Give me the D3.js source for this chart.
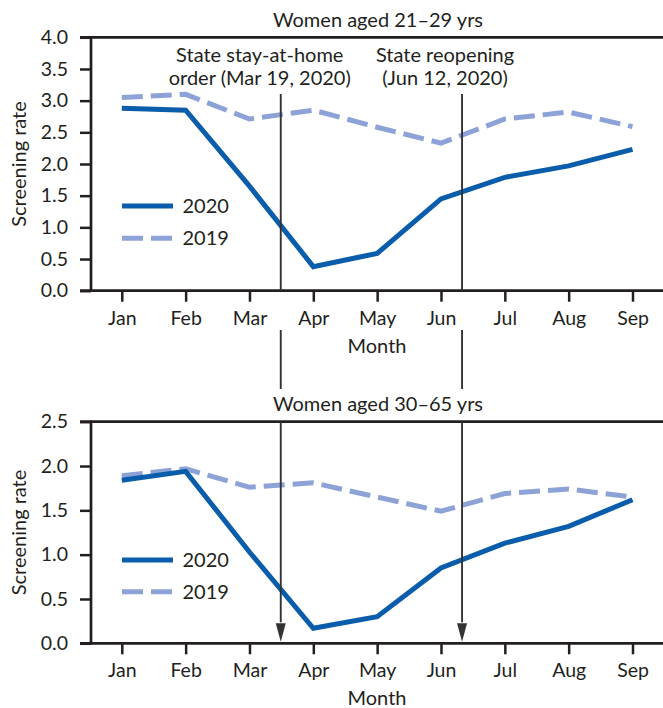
<!DOCTYPE html>
<html>
<head>
<meta charset="utf-8">
<script src="https://cdn.jsdelivr.net/npm/d3@7"></script>
<style>
  html, body { margin: 0; padding: 0; background: #fff; }
  svg { display: block; }
  text { font-family: Lato, "Open Sans", sans-serif; fill: #231f20; }
</style>
</head>
<body>
<svg id="chart" width="663" height="708"></svg>
<script>
// ---- data ----
const months = ["Jan", "Feb", "Mar", "Apr", "May", "Jun", "Jul", "Aug", "Sep"];
const young2020 = [2.88, 2.85, 1.65, 0.38, 0.59, 1.45, 1.79, 1.97, 2.23];
const young2019 = [3.05, 3.10, 2.71, 2.85, 2.58, 2.33, 2.71, 2.82, 2.59];
const older2020 = [1.84, 1.94, 1.03, 0.17, 0.30, 0.85, 1.13, 1.32, 1.62];
const older2019 = [1.89, 1.97, 1.76, 1.81, 1.65, 1.49, 1.69, 1.74, 1.65];
const youngTicks = [0, 0.5, 1, 1.5, 2, 2.5, 3, 3.5, 4];
const olderTicks = [0, 0.5, 1, 1.5, 2, 2.5];
const panelTitles = ["Women aged 21\u201329 yrs", "Women aged 30\u201365 yrs"];
const seriesNames = ["2020", "2019"];
const eventLabels = [["State stay-at-home", "order (Mar 19, 2020)"], ["State reopening", "(Jun 12, 2020)"]];
const eventMonthPos = [2.49, 5.33]; // position on month axis (0 = Jan)

// ---- styles ----
const C2020 = "#0a5dab", C2019 = "#8da2d6", INK = "#231f20", EVT = "#333333";
const FS = 20, FT = 19.5;

const svg = d3.select("#chart");
const x = d3.scaleLinear().domain([0, months.length - 1]).range([121.8, 632.5]);
const axisLeftX = 91, axisRight = 663;

const panels = [
  { title: panelTitles[0], s20: young2020, s19: young2019, ticks: youngTicks, max: 4,
    top: 37.3, bottom: 290.7, titleY: 27.3, legendY: [206, 238.3] },
  { title: panelTitles[1], s20: older2020, s19: older2019, ticks: olderTicks, max: 2.5,
    top: 421.7, bottom: 643.3, titleY: 410.7, legendY: [560, 591.7] }
];

panels.forEach((p, pi) => {
  const y = d3.scaleLinear().domain([0, p.max]).range([p.bottom, p.top]);
  const g = svg.append("g");

  g.append("text").attr("x", 378).attr("y", p.titleY).attr("text-anchor", "middle")
    .attr("font-size", FS).text(p.title);

  const ya = g.append("g").attr("transform", `translate(${axisLeftX},0)`)
    .call(d3.axisLeft(y).tickValues(p.ticks).tickFormat(d3.format(".1f")).tickSize(11).tickPadding(12));
  ya.select(".domain").remove();
  ya.selectAll(".tick line").attr("stroke", INK).attr("stroke-width", 2.5);
  ya.selectAll(".tick text").attr("font-size", FT).attr("font-family", "Lato, sans-serif").attr("fill", INK);

  const xa = g.append("g").attr("transform", `translate(0,${p.bottom})`)
    .call(d3.axisBottom(x).tickValues(d3.range(months.length)).tickFormat(i => months[i]).tickSize(11).tickPadding(9));
  xa.select(".domain").remove();
  xa.selectAll(".tick line").attr("stroke", INK).attr("stroke-width", 2.5);
  xa.selectAll(".tick text").attr("font-size", FT).attr("font-family", "Lato, sans-serif").attr("fill", INK);

  g.append("line").attr("x1", axisLeftX).attr("x2", axisLeftX).attr("y1", p.top - 1.25).attr("y2", p.bottom + 1.25)
    .attr("stroke", INK).attr("stroke-width", 2.7);
  g.append("line").attr("x1", axisLeftX - 11).attr("x2", axisRight).attr("y1", p.bottom).attr("y2", p.bottom)
    .attr("stroke", INK).attr("stroke-width", 2.7);
  g.append("line").attr("x1", axisLeftX - 11).attr("x2", axisRight).attr("y1", p.top).attr("y2", p.top)
    .attr("stroke", INK).attr("stroke-width", 2.7);

  g.append("text").attr("x", 377).attr("y", p.bottom + 62).attr("text-anchor", "middle")
    .attr("font-size", FS).text("Month");

  g.append("text").attr("transform", `translate(26,${(p.top + p.bottom) / 2}) rotate(-90)`)
    .attr("text-anchor", "middle").attr("font-size", FS).text("Screening rate");

  const line = d3.line().x((d, i) => x(i)).y(d => y(d));
  g.append("path").datum(p.s19).attr("d", line).attr("fill", "none")
    .attr("stroke", C2019).attr("stroke-width", 5).attr("stroke-dasharray", "21,8");
  g.append("path").datum(p.s20).attr("d", line).attr("fill", "none")
    .attr("stroke", C2020).attr("stroke-width", 5).attr("stroke-linejoin", "miter");

  const lg = g.append("g");
  [[C2020, null], [C2019, "21,8"]].forEach((st, k) => {
    lg.append("line").attr("x1", 122).attr("x2", 173).attr("y1", p.legendY[k]).attr("y2", p.legendY[k])
      .attr("stroke", st[0]).attr("stroke-width", 5).attr("stroke-dasharray", st[1]);
    lg.append("text").attr("x", 182.5).attr("y", p.legendY[k]).attr("dy", "0.35em")
      .attr("font-size", FS).text(seriesNames[k]);
  });
});

const evOffsets = [-21, -17];
eventMonthPos.forEach((m, k) => {
  const ex = x(m);
  svg.append("text").attr("x", ex + evOffsets[k]).attr("y", 61.5).attr("text-anchor", "middle")
    .attr("font-size", FS).text(eventLabels[k][0]);
  svg.append("text").attr("x", ex + evOffsets[k]).attr("y", 84.5).attr("text-anchor", "middle")
    .attr("font-size", FS).text(eventLabels[k][1]);
  const segs = [[94, panels[0].bottom], [330, 389], [panels[1].top, panels[1].bottom - 21]];
  segs.forEach(s => {
    svg.append("line").attr("x1", ex).attr("x2", ex).attr("y1", s[0]).attr("y2", s[1])
      .attr("stroke", EVT).attr("stroke-width", 1.9);
  });
  svg.append("path")
    .attr("d", `M${ex - 5},${panels[1].bottom - 20} L${ex + 5},${panels[1].bottom - 20} L${ex},${panels[1].bottom - 1.5} Z`)
    .attr("fill", EVT);
});
</script>
</body>
</html>
